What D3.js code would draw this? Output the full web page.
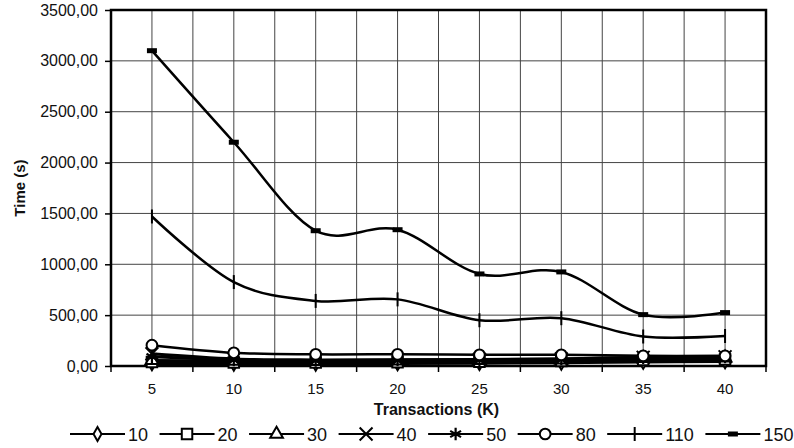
<!DOCTYPE html>
<html><head><meta charset="utf-8">
<script src="https://cdn.jsdelivr.net/npm/d3@7"></script>
<style>
html,body{margin:0;padding:0;background:#fff;}
text{font-family:"Liberation Sans",Arial,sans-serif;fill:#111;}
</style></head>
<body>
<svg id="chart" width="794" height="448"></svg>
<script>
// ---- data ----
const categories = [5, 10, 15, 20, 25, 30, 35, 40];
const seriesNames = ["10", "20", "30", "40", "50", "80", "110", "150"];
const s10  = [25, 22, 22, 25, 28, 32, 40, 45];
const s20  = [40, 35, 35, 38, 42, 48, 60, 65];
const s30  = [55, 48, 45, 50, 55, 60, 75, 80];
const s40  = [120, 70, 60, 62, 65, 70, 85, 90];
const s50  = [90, 60, 55, 58, 62, 68, 82, 88];
const s80  = [205, 130, 115, 115, 110, 110, 100, 100];
const s110 = [1470, 825, 640, 655, 450, 470, 290, 295];
const s150 = [3100, 2200, 1330, 1340, 905, 925, 505, 525];
const yTicks = [0, 500, 1000, 1500, 2000, 2500, 3000, 3500];
const markerTypes = ["diamond", "square", "triangle", "x", "asterisk", "circle", "plus", "dash"];
const seriesValues = [s10, s20, s30, s40, s50, s80, s110, s150];

// ---- layout ----
const svg = d3.select("#chart");
const L = 111, R = 766, T = 10, B = 366;

const x = d3.scaleBand().domain(categories).range([L, R]).padding(0);
const xc = d => x(d) + x.bandwidth() / 2;
const y = d3.scaleLinear().domain([0, 3500]).range([B, T]);

// gridlines
const g = svg.append("g");
yTicks.forEach(t => {
  g.append("line").attr("x1", L).attr("x2", R).attr("y1", y(t)).attr("y2", y(t))
   .attr("stroke", "#444").attr("stroke-width", 1);
});
const vLines = [];
categories.forEach(c => { vLines.push(x(c)); vLines.push(xc(c)); });
vLines.push(R);
vLines.forEach(v => {
  g.append("line").attr("x1", v).attr("x2", v).attr("y1", T).attr("y2", B)
   .attr("stroke", "#444").attr("stroke-width", 1);
});

// y axis
const yAxis = d3.axisLeft(y).tickValues(yTicks).tickSize(6).tickPadding(7)
  .tickFormat(d => d3.format(".2f")(d).replace(".", ","));
const ya = svg.append("g").attr("transform", `translate(${L},0)`).call(yAxis);
ya.select(".domain").remove();
ya.selectAll("line").attr("stroke", "#000").attr("stroke-width", 1.5);
ya.selectAll("text").attr("font-size", 16).attr("fill", "#111")
  .attr("font-family", "Liberation Sans, Arial, sans-serif");

// x axis
const xAxis = d3.axisBottom(x).tickSize(0).tickPadding(17);
const xa = svg.append("g").attr("transform", `translate(0,${B})`).call(xAxis);
xa.select(".domain").remove();
xa.selectAll("text").attr("font-size", 15).attr("fill", "#111")
  .attr("font-family", "Liberation Sans, Arial, sans-serif");
categories.forEach(c => {
  svg.append("line").attr("x1", x(c)).attr("x2", x(c)).attr("y1", B).attr("y2", B + 6)
    .attr("stroke", "#000").attr("stroke-width", 1.5);
});
svg.append("line").attr("x1", R).attr("x2", R).attr("y1", B).attr("y2", B + 6)
  .attr("stroke", "#000").attr("stroke-width", 1.5);

// plot border
svg.append("rect").attr("x", L).attr("y", T).attr("width", R - L).attr("height", B - T)
  .attr("fill", "none").attr("stroke", "#000").attr("stroke-width", 2.5);

// marker drawing
function drawMarker(sel, type, cx, cy) {
  const gg = sel.append("g").attr("transform", `translate(${cx},${cy})`);
  const st = {stroke: "#000", "stroke-width": 2, fill: "#fff"};
  const apply = s => { Object.entries(st).forEach(([k, v]) => s.attr(k, v)); return s; };
  if (type === "diamond") apply(gg.append("path").attr("d", d3.symbol(d3.symbolDiamond, 55)()));
  else if (type === "square") apply(gg.append("path").attr("d", d3.symbol(d3.symbolSquare, 110)()));
  else if (type === "triangle") apply(gg.append("path").attr("d", d3.symbol(d3.symbolTriangle, 70)()));
  else if (type === "circle") apply(gg.append("path").attr("d", d3.symbol(d3.symbolCircle, 90)()));
  else if (type === "x") gg.append("path").attr("d", d3.symbol(d3.symbolX, 110)()).attr("stroke", "#000").attr("stroke-width", 2).attr("fill", "none");
  else if (type === "asterisk") gg.append("path").attr("d", d3.symbol(d3.symbolAsterisk, 110)()).attr("stroke", "#000").attr("stroke-width", 2.2).attr("fill", "none");
  else if (type === "plus") gg.append("line").attr("x1", 0).attr("x2", 0).attr("y1", -7).attr("y2", 7).attr("stroke", "#000").attr("stroke-width", 2);
  else if (type === "dash") gg.append("rect").attr("x", -5).attr("y", -2.5).attr("width", 10).attr("height", 5).attr("fill", "#000");
}

// series: line then markers, in series order
const line = d3.line().x((d, i) => xc(categories[i])).y(d => y(d)).curve(d3.curveCatmullRom.alpha(0));
const plot = svg.append("g");
seriesValues.forEach((vals, si) => {
  plot.append("path").attr("d", line(vals)).attr("fill", "none")
    .attr("stroke", "#000").attr("stroke-width", si < 5 ? 3 : 2.5);
  vals.forEach((v, i) => drawMarker(plot, markerTypes[si], xc(categories[i]), y(v)));
});

// axis titles
svg.append("text").attr("x", (L + R) / 2 - 2).attr("y", 415).attr("text-anchor", "middle")
  .attr("font-size", 16).attr("font-weight", "bold").text("Transactions (K)");
svg.append("text").attr("transform", `translate(25,${(T + B) / 2}) rotate(-90)`)
  .attr("text-anchor", "middle").attr("font-size", 15).attr("font-weight", "bold").text("Time (s)");

// legend
const lg = svg.append("g");
let lx = 70;
const ly = 434;
seriesNames.forEach((name, si) => {
  lg.append("line").attr("x1", lx).attr("x2", lx + 55).attr("y1", ly).attr("y2", ly)
    .attr("stroke", "#000").attr("stroke-width", 2);
  drawMarker(lg, markerTypes[si], lx + 27.5, ly);
  const t = lg.append("text").attr("x", lx + 58).attr("y", ly + 6.5).attr("font-size", 18).text(name);
  const w = t.node().getComputedTextLength();
  lx += 58 + w + 11.5;
});
</script>
</body></html>
